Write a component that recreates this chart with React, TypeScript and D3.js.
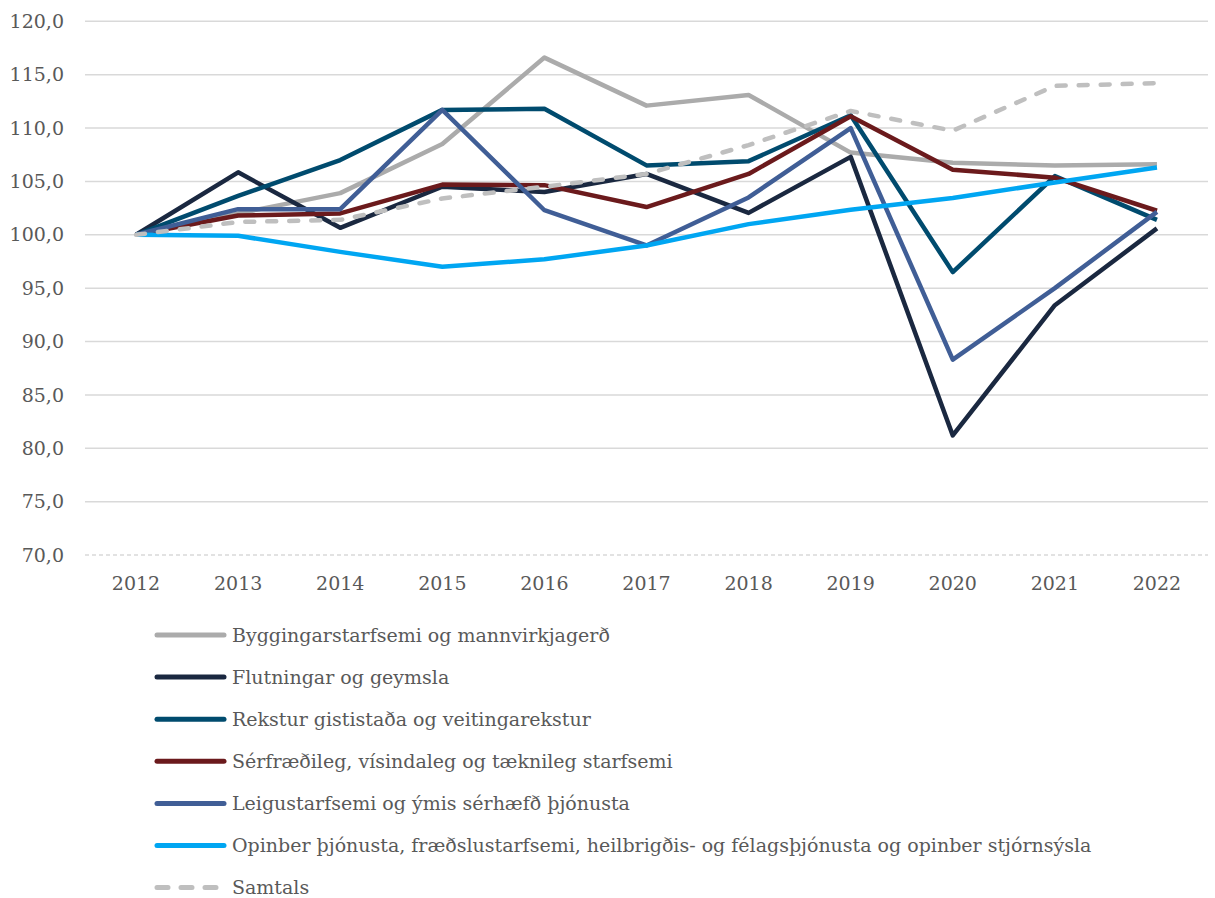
import React from "react";
import * as d3 from "d3";

const years = ["2012", "2013", "2014", "2015", "2016", "2017", "2018", "2019", "2020", "2021", "2022"];
const yTicks = [70, 75, 80, 85, 90, 95, 100, 105, 110, 115, 120];

const byggingar = [100, 102.0, 103.9, 108.5, 116.6, 112.1, 113.1, 107.7, 106.75, 106.5, 106.6];
const flutningar = [100, 105.85, 100.65, 104.5, 104.0, 105.7, 102.05, 107.3, 81.2, 93.4, 100.6];
const rekstur = [100, 103.65, 107.0, 111.7, 111.8, 106.5, 106.9, 111.2, 96.5, 105.5, 101.4];
const serfraedi = [100, 101.8, 102.0, 104.7, 104.65, 102.6, 105.7, 111.1, 106.1, 105.35, 102.25];
const leigu = [100, 102.4, 102.4, 111.7, 102.3, 99.0, 103.5, 110.0, 88.3, 95.0, 102.15];
const opinber = [100, 99.9, 98.4, 97.0, 97.7, 99.0, 101.0, 102.35, 103.45, 104.9, 106.3];
const samtals = [100, 101.2, 101.4, 103.4, 104.5, 105.7, 108.4, 111.6, 109.75, 113.95, 114.2];

const seriesNames = [
  "Byggingarstarfsemi og mannvirkjagerð",
  "Flutningar og geymsla",
  "Rekstur gististaða og veitingarekstur",
  "Sérfræðileg, vísindaleg og tæknileg starfsemi",
  "Leigustarfsemi og ýmis sérhæfð þjónusta",
  "Opinber þjónusta, fræðslustarfsemi, heilbrigðis- og félagsþjónusta og opinber stjórnsýsla",
  "Samtals",
];
const seriesValues = [byggingar, flutningar, rekstur, serfraedi, leigu, opinber, samtals];
const seriesColors = ["#ABABAB", "#1A2840", "#004B6E", "#6B1A1C", "#405E96", "#00A6F2", "#BFBFBF"];
const seriesDashed = [false, false, false, false, false, false, true];

const W = 1215;
const H = 898;
const FONT = "DejaVu Serif";

export default function App() {
  const left = 85;
  const right = 1208;
  const top = 21.3;
  const bottom = 555;

  const x = d3.scaleBand<string>().domain(years).range([left, right]);
  const y = d3.scaleLinear().domain([70, 120]).range([bottom, top]);
  const cx = (yr: string) => (x(yr) as number) + x.bandwidth() / 2;

  const line = d3
    .line<number>()
    .x((_, i) => cx(years[i]))
    .y((v) => y(v));

  const legendX1 = 157;
  const legendX2 = 224;
  const legendTextX = 232;
  const legendY0 = 635;
  const legendStep = 42.1;
  const textStyle = { fontFamily: FONT, fontSize: 19, fill: "#595959" };

  return (
    <svg width={W} height={H} style={{ position: "absolute", left: 0, top: 0, background: "#fff" }}>
      {yTicks.map((t) => (
        <g key={t}>
          <line
            x1={left}
            x2={right}
            y1={y(t)}
            y2={y(t)}
            stroke="#D9D9D9"
            strokeWidth={1.5}
            strokeDasharray={t === 70 ? "4 3" : undefined}
          />
          <text x={64} y={y(t)} dy="0.35em" textAnchor="end" style={textStyle}>
            {d3.format(".1f")(t).replace(".", ",")}
          </text>
        </g>
      ))}
      {years.map((yr) => (
        <text key={yr} x={cx(yr)} y={583} dy="0.35em" textAnchor="middle" style={textStyle}>
          {yr}
        </text>
      ))}
      {seriesValues.map((vals, i) => (
        <path
          key={i}
          d={line(vals) || ""}
          fill="none"
          stroke={seriesColors[i]}
          strokeWidth={4.5}
          strokeLinejoin="round"
          strokeLinecap={seriesDashed[i] ? "round" : "butt"}
          strokeDasharray={seriesDashed[i] ? "9 13" : undefined}
        />
      ))}
      {seriesNames.map((name, i) => {
        const ly = legendY0 + i * legendStep;
        return (
          <g key={name}>
            <line
              x1={legendX1}
              x2={legendX2}
              y1={ly}
              y2={ly}
              stroke={seriesColors[i]}
              strokeWidth={5}
              strokeLinecap="round"
              strokeDasharray={seriesDashed[i] ? "11 13" : undefined}
            />
            <text x={legendTextX} y={ly} dy="0.35em" style={textStyle}>
              {name}
            </text>
          </g>
        );
      })}
    </svg>
  );
}
